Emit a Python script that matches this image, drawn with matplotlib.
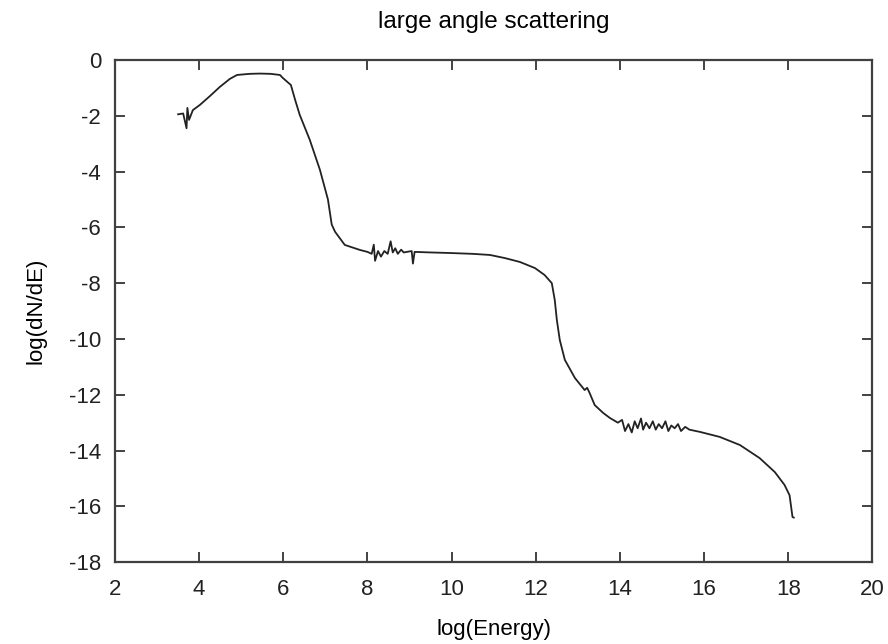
import matplotlib.pyplot as plt

plt.rcParams['font.family'] = ['Liberation Sans', 'DejaVu Sans']
plt.rcParams['axes.unicode_minus'] = False

# spectrum: log(Energy) vs log(dN/dE)
log_energy = [3.50, 3.62, 3.70, 3.72, 3.76, 3.85, 4.02, 4.26, 4.49, 4.73, 4.90,
              5.20, 5.44, 5.70, 5.92, 5.99, 6.18, 6.28, 6.39, 6.63, 6.87,
              7.06, 7.15, 7.23, 7.46, 7.82, 8.00, 8.10, 8.15, 8.18, 8.25,
              8.32, 8.40, 8.48, 8.55, 8.60, 8.66, 8.72, 8.80, 8.86, 9.05,
              9.08, 9.12, 9.50, 9.96, 10.50, 10.91, 11.26, 11.62, 11.98,
              12.21, 12.38, 12.45, 12.50, 12.57, 12.69, 12.93, 13.16, 13.22,
              13.28, 13.40, 13.60, 13.76, 13.95, 14.05, 14.12, 14.20, 14.28,
              14.35, 14.42, 14.50, 14.55, 14.62, 14.70, 14.78, 14.85, 14.92,
              15.00, 15.08, 15.15, 15.22, 15.30, 15.38, 15.45, 15.55, 15.65,
              15.90, 16.37, 16.85, 17.32, 17.68, 17.91, 18.03, 18.10, 18.13]
log_dnde = [-1.95, -1.92, -2.45, -1.72, -2.15, -1.80, -1.61, -1.29, -0.97, -0.68, -0.54,
            -0.50, -0.49, -0.50, -0.54, -0.65, -0.90, -1.43, -1.97, -2.87, -3.94,
            -5.00, -5.90, -6.16, -6.63, -6.81, -6.88, -6.95, -6.62, -7.20, -6.85,
            -7.05, -6.85, -6.95, -6.50, -6.90, -6.75, -6.95, -6.80, -6.90, -6.85,
            -7.30, -6.88, -6.90, -6.92, -6.95, -6.99, -7.10, -7.24, -7.46,
            -7.71, -8.00, -8.60, -9.32, -10.04, -10.75, -11.40, -11.83, -11.75,
            -11.94, -12.37, -12.65, -12.83, -13.00, -12.90, -13.30, -13.05, -13.35,
            -12.95, -13.20, -12.85, -13.25, -13.00, -13.20, -12.95, -13.25, -13.05,
            -13.20, -12.95, -13.30, -13.10, -13.20, -13.05, -13.30, -13.15, -13.25,
            -13.33, -13.51, -13.80, -14.27, -14.77, -15.23, -15.60, -16.38, -16.40]

fig = plt.figure(figsize=(8.88, 6.44), dpi=100)
ax = fig.add_axes([0.1295, 0.127, 0.853, 0.78])

ax.plot(log_energy, log_dnde, color='#222222', lw=1.3)

ax.set_xlim(2, 20)
ax.set_ylim(-18, 0)
ax.set_xticks(range(2, 21, 2))
ax.set_yticks(range(-18, 1, 2))
ax.tick_params(direction='in', top=True, right=True, length=7, width=1.2,
               labelsize=16, colors='#222222')
ax.tick_params(axis='x', pad=12)
ax.tick_params(axis='y', pad=10)
for s in ax.spines.values():
    s.set_linewidth(1.6)
    s.set_color('#404040')

ax.set_title('large angle scattering', fontsize=17.5, pad=23)
ax.set_xlabel('log(Energy)', fontsize=16, labelpad=14)
ax.set_ylabel('log(dN/dE)', fontsize=16, labelpad=16)

fig.savefig('out.png')
